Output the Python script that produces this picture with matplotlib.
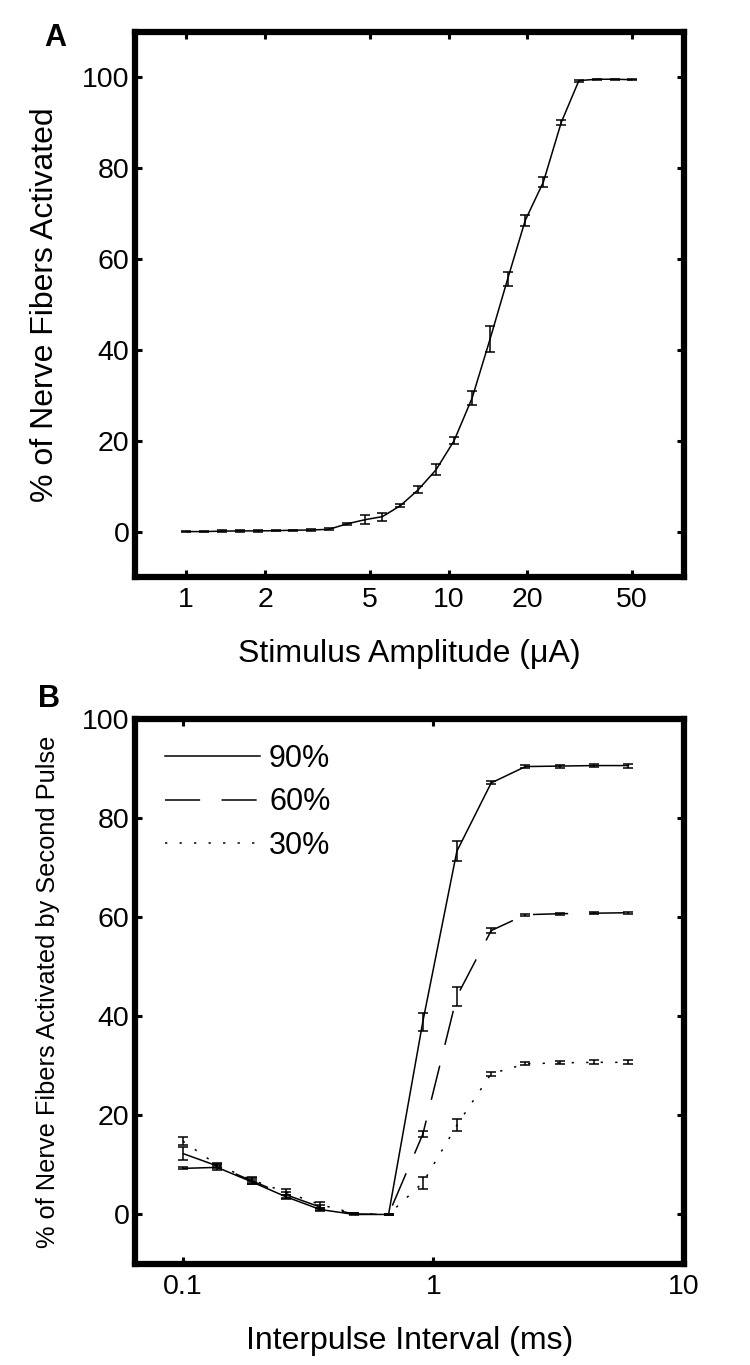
import matplotlib.pyplot as plt
import numpy as np

plt.rcParams["font.family"] = ["Liberation Sans", "DejaVu Sans"]

# Panel A: stimulus amplitude (uA) vs % fibers activated
amp_ua = [1.0, 1.17, 1.37, 1.6, 1.87, 2.19, 2.56, 2.99, 3.5, 4.1, 4.79, 5.6, 6.55,
          7.66, 8.96, 10.5, 12.3, 14.4, 16.8, 19.6, 23.0, 26.9, 31.4, 36.8, 43.0, 50.0]
pct_active = [0.0, 0.0, 0.1, 0.15, 0.15, 0.2, 0.3, 0.35, 0.5, 1.7, 2.6, 3.3, 5.7,
              9.2, 13.6, 20.0, 29.4, 42.4, 55.6, 68.5, 77.0, 90.1, 99.3, 99.6, 99.6, 99.5]
pct_err = [0.15, 0.15, 0.15, 0.15, 0.15, 0.15, 0.15, 0.15, 0.2, 0.3, 1.0, 0.9, 0.3,
           0.8, 1.2, 0.8, 1.5, 2.9, 1.6, 1.3, 1.1, 0.5, 0.2, 0.15, 0.15, 0.15]

# Panel B: interpulse interval (ms) vs % activated by second pulse
ipi_ms = [0.1, 0.137, 0.188, 0.257, 0.353, 0.483, 0.662, 0.907, 1.24, 1.70,
          2.33, 3.20, 4.38, 6.0]
resp_90 = [9.3, 9.5, 6.6, 3.6, 1.0, 0.0, 0.0, 38.9, 73.3, 87.1, 90.4, 90.5, 90.6, 90.6]
err_90 = [0.2, 0.5, 0.4, 0.4, 0.3, 0.1, 0.1, 1.8, 2.0, 0.3, 0.3, 0.3, 0.3, 0.4]
resp_60 = [12.3, 9.8, 6.8, 4.0, 1.5, 0.1, 0.0, 16.2, 44.0, 57.3, 60.5, 60.7, 60.8, 60.9]
err_60 = [1.3, 0.4, 0.6, 0.6, 0.5, 0.1, 0.1, 0.6, 2.0, 0.5, 0.2, 0.2, 0.2, 0.2]
resp_30 = [14.8, 10.0, 7.0, 4.5, 2.0, 0.2, 0.0, 6.4, 18.0, 28.4, 30.4, 30.6, 30.7, 30.7]
err_30 = [0.8, 0.4, 0.5, 0.6, 0.6, 0.1, 0.1, 1.2, 1.2, 0.4, 0.3, 0.3, 0.4, 0.4]
series_b = [("90%", resp_90, err_90, None),
            ("60%", resp_60, err_60, (23, 14)),
            ("30%", resp_30, err_30, (1.5, 8))]

amp_ticks = [1, 2, 5, 10, 20, 50]
ipi_ticks = [0.1, 1, 10]
pct_ticks = [0, 20, 40, 60, 80, 100]

W, H = 750, 1365
fig = plt.figure(figsize=(W / 100, H / 100), dpi=100)


def frac_axes(left, top, right, bottom):
    return fig.add_axes([left / W, 1 - bottom / H, (right - left) / W, (bottom - top) / H])


def style_axes(ax):
    for side in ax.spines.values():
        side.set_linewidth(4.5)
    ax.tick_params(which="major", direction="in", length=5, width=2.2,
                   top=True, right=True, labelsize=20.5, pad=7)
    ax.tick_params(axis="y", pad=4)
    ax.tick_params(which="minor", length=0)
    ax.set_yticks(pct_ticks)
    ax.set_yticklabels([str(t) for t in pct_ticks])


ax_a = frac_axes(135, 32, 684, 577)
ax_a.errorbar(amp_ua, pct_active, yerr=pct_err, color="black", lw=1.1,
              elinewidth=1.1, capsize=3.5, capthick=1.1)
ax_a.set_xscale("log")
ax_a.set_xlim(0.638, 79)
ax_a.set_ylim(-10, 110)
style_axes(ax_a)
ax_a.set_xticks(amp_ticks)
ax_a.set_xticklabels([str(t) for t in amp_ticks])
ax_a.set_xlabel("Stimulus Amplitude (\u03bcA)", fontsize=23, labelpad=19)
ax_a.set_ylabel("% of Nerve Fibers Activated", fontsize=23, labelpad=16)
fig.text(55 / W, 1 - 38 / H, "A", fontsize=22, fontweight="bold", ha="center", va="center")

ax_b = frac_axes(135, 719, 684, 1264)
for name, vals, errs, dash in series_b:
    line, caps, bars = ax_b.errorbar(ipi_ms, vals, yerr=errs, color="black", lw=1.1,
                                     elinewidth=1.1, capsize=3.5, capthick=1.1, label=name)
    if dash is not None:
        line.set_dashes(dash)
ax_b.set_xscale("log")
ax_b.set_xlim(0.0644, 10)
ax_b.set_ylim(-10, 100)
style_axes(ax_b)
ax_b.set_xticks(ipi_ticks)
ax_b.set_xticklabels(["0.1", "1", "10"])
ax_b.set_xlabel("Interpulse Interval (ms)", fontsize=23, labelpad=19)
ax_b.set_ylabel("% of Nerve Fibers Activated by Second Pulse", fontsize=18.3, labelpad=16)
handles, labels = ax_b.get_legend_handles_labels()
handles = [h[0] for h in handles]
ax_b.legend(handles, labels, loc="upper left", frameon=False, fontsize=22,
            handlelength=3.1, handletextpad=0.3, labelspacing=0.45,
            borderaxespad=0.0, borderpad=0.0, bbox_to_anchor=(0.055, 0.955))
fig.text(49 / W, 1 - 699 / H, "B", fontsize=22, fontweight="bold", ha="center", va="center")

fig.savefig("out.png", dpi=100)
